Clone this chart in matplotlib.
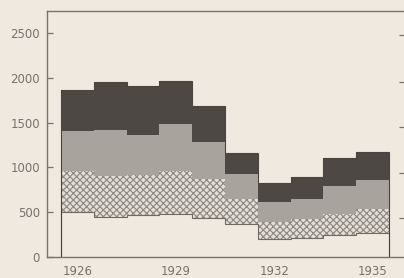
import numpy as np
import matplotlib
matplotlib.use('Agg')
import matplotlib.pyplot as plt

# ---- data ----
years = [1926, 1927, 1928, 1929, 1930, 1931, 1932, 1933, 1934, 1935]
layer_bottom = [505, 445, 465, 485, 435, 365, 205, 215, 240, 270]   # plain
layer_hatched = [450, 455, 445, 470, 430, 280, 185, 210, 240, 265]  # cross-hatched
layer_grey = [455, 515, 450, 525, 415, 280, 225, 225, 310, 320]     # light grey
layer_dark = [455, 540, 545, 480, 405, 240, 215, 245, 315, 315]     # dark
x_tick_years = [1926, 1929, 1932, 1935]
y_ticks = [0, 500, 1000, 1500, 2000, 2500]
right_edge_ticks = [2480, 1950, 1450, 940, 435]

bg = '#efe9df'
ink = '#77726c'

plt.rcParams['hatch.linewidth'] = 0.85

fig = plt.figure(figsize=(4.04, 2.78), dpi=100, facecolor=bg)
ax = fig.add_axes([47 / 404, 21 / 278, 359 / 404, 246 / 278])
ax.set_facecolor(bg)

edges = np.append(np.array(years) - 0.5, years[-1] + 0.5)
layers = [layer_bottom, layer_hatched, layer_grey, layer_dark]
styles = [
    dict(facecolor=bg, edgecolor=bg),
    dict(facecolor='#e4dfd6', edgecolor='#8f8a84', hatch='xxxxx'),
    dict(facecolor='#a8a39d', edgecolor='#a8a39d'),
    dict(facecolor='#4d4844', edgecolor='#4d4844'),
]
base = np.zeros(len(years))
for vals, st in zip(layers, styles):
    top = base + np.array(vals)
    ax.stairs(top, edges, baseline=base, fill=True, linewidth=0, **st)
    base = top

# outlines
ax.stairs(np.array(layer_bottom), edges, baseline=0, fill=False,
          color='#6f6a64', linewidth=0.8)
ax.stairs(base, edges, baseline=0, fill=False, color='#4a4541', linewidth=0.8)

ax.set_xlim(1925.073, 1936.02)
ax.set_ylim(0, 2745)

for s in ['left', 'top', 'bottom']:
    ax.spines[s].set_color(ink)
    ax.spines[s].set_linewidth(1.0)
ax.spines['right'].set_visible(False)

ax.set_yticks(y_ticks)
ax.set_yticklabels([str(v) for v in y_ticks])
ax.tick_params(axis='y', direction='in', length=4.5, width=0.9, color=ink,
               labelcolor=ink, labelsize=8.5, pad=5)
ax.set_xticks(x_tick_years)
ax.set_xticklabels([str(v) for v in x_tick_years])
ax.tick_params(axis='x', length=0, labelcolor=ink, labelsize=8.5, pad=6)

ax2 = ax.twinx()
ax2.set_ylim(ax.get_ylim())
ax2.set_yticks(right_edge_ticks)
ax2.set_yticklabels([])
ax2.tick_params(axis='y', direction='in', length=5, width=0.9, color=ink)
for s in ax2.spines.values():
    s.set_visible(False)

fig.savefig('out.png', dpi=100, facecolor=bg)
